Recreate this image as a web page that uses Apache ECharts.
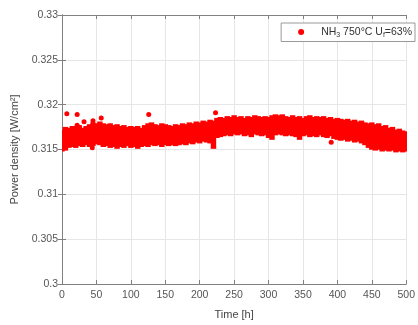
<!DOCTYPE html>
<html><head><meta charset="utf-8">
<script src="https://cdn.jsdelivr.net/npm/echarts@6/dist/echarts.min.js"></script>
<style>html,body{margin:0;padding:0;background:#fff}#c{width:418px;height:325px}</style>
</head><body><div id="c"></div>
<script>
// Time samples (h) of the dense measurement band
const bandTime = [0,5,10,15,20,25,30,35,40,45,50,55,60,65,70,75,80,85,90,95,100,105,110,115,120,125,130,135,140,145,150,155,160,165,170,175,180,185,190,195,200,205,210,215,220,225,230,235,240,245,250,255,260,265,270,275,280,285,290,295,300,305,310,315,320,325,330,335,340,345,350,355,360,365,370,375,380,385,390,395,400,405,410,415,420,425,430,435,440,445,450,455,460,465,470,475,480,485,490,495,500];
// Upper edge of the scatter band (W/cm2)
const bandHigh = [0.3170,0.3173,0.3172,0.3174,0.3173,0.3175,0.3172,0.3174,0.3176,0.3178,0.3177,0.3179,0.3177,0.3176,0.3177,0.3175,0.3176,0.3174,0.3175,0.3173,0.3174,0.3173,0.3174,0.3172,0.3175,0.3177,0.3178,0.3176,0.3175,0.3177,0.3176,0.3175,0.3174,0.3176,0.3175,0.3177,0.3176,0.3178,0.3177,0.3179,0.3178,0.3180,0.3179,0.3181,0.3180,0.3183,0.3184,0.3183,0.3185,0.3184,0.3186,0.3184,0.3185,0.3183,0.3185,0.3184,0.3186,0.3185,0.3184,0.3185,0.3184,0.3186,0.3187,0.3186,0.3187,0.3185,0.3184,0.3186,0.3184,0.3185,0.3183,0.3185,0.3186,0.3184,0.3185,0.3184,0.3185,0.3183,0.3184,0.3182,0.3183,0.3182,0.3181,0.3182,0.3180,0.3181,0.3179,0.3180,0.3178,0.3177,0.3178,0.3176,0.3177,0.3174,0.3175,0.3172,0.3173,0.3170,0.3171,0.3169,0.3168];
// Lower edge of the scatter band (W/cm2)
const bandLow = [0.3150,0.3151,0.3154,0.3155,0.3154,0.3156,0.3155,0.3157,0.3155,0.3156,0.3158,0.3157,0.3155,0.3156,0.3154,0.3155,0.3153,0.3155,0.3154,0.3156,0.3154,0.3155,0.3153,0.3155,0.3156,0.3155,0.3157,0.3156,0.3157,0.3155,0.3157,0.3156,0.3157,0.3156,0.3157,0.3158,0.3157,0.3159,0.3158,0.3160,0.3159,0.3161,0.3160,0.3159,0.3153,0.3165,0.3166,0.3167,0.3168,0.3167,0.3169,0.3168,0.3169,0.3167,0.3168,0.3166,0.3169,0.3168,0.3167,0.3168,0.3165,0.3163,0.3168,0.3169,0.3168,0.3167,0.3168,0.3167,0.3166,0.3163,0.3167,0.3168,0.3166,0.3167,0.3166,0.3168,0.3166,0.3165,0.3167,0.3164,0.3163,0.3162,0.3163,0.3161,0.3162,0.3160,0.3161,0.3159,0.3157,0.3154,0.3152,0.3151,0.3152,0.3150,0.3151,0.3150,0.3151,0.3149,0.3150,0.3149,0.3150];
// Isolated points outside the band
const outlierTime = [7,22,22,32,45,57,44,126,223,391];
const outlierValue = [0.3190,0.3189,0.3177,0.3181,0.3182,0.3185,0.3152,0.3189,0.3191,0.3158];
const xTicks = [0,50,100,150,200,250,300,350,400,450,500];
const yTicks = [0.3,0.305,0.31,0.315,0.32,0.325,0.33];

const bandData = bandTime.map((t,i)=>[t,bandLow[i],bandHigh[i]]);
const outData = outlierTime.map((t,i)=>[t,outlierValue[i]]);
const RED = '#ff0000';
const FONT = 'Liberation Sans';
const chart = echarts.init(document.getElementById('c'), null, {renderer:'canvas'});
const axisCommon = {
  axisLine:{show:true,lineStyle:{color:'#808080',width:1}},
  axisTick:{show:true,inside:true,length:4,lineStyle:{color:'#808080'}},
  splitLine:{show:true,lineStyle:{color:'#e6e6e6',width:1}},
  axisLabel:{color:'#555',fontFamily:FONT,fontSize:10.5}
};
chart.setOption({
  animation:false,
  backgroundColor:'#fff',
  grid:{left:62,right:5,top:15,bottom:32,containLabel:false},
  legend:{
    show:true, data:['nh3'], right:3, top:23, orient:'horizontal',
    backgroundColor:'#fff', borderColor:'#999', borderWidth:1, padding:[3,3,3,17],
    itemWidth:6, itemHeight:6, itemGap:5,
    icon:'circle',
    formatter:()=> '{g|}{a|NH}{s|3}{a| 750°C U}{s|f}{a|=63%}',
    textStyle:{rich:{
      g:{width:12},
      a:{fontFamily:FONT,fontSize:10.5,color:'#333'},
      s:{fontFamily:FONT,fontSize:7,color:'#333',verticalAlign:'bottom',padding:[6,0,0,0]}
    }}
  },
  xAxis:[Object.assign({type:'value',min:0,max:500,interval:50,name:'Time [h]',nameLocation:'middle',nameGap:25,
    nameTextStyle:{color:'#444',fontFamily:FONT,fontSize:11}},axisCommon,
    {axisLabel:Object.assign({},axisCommon.axisLabel,{margin:6,formatter:v=>xTicks.includes(v)?String(v):''})}),
    {type:'value',position:'top',min:0,max:500,interval:50,axisLine:axisCommon.axisLine,axisTick:axisCommon.axisTick,axisLabel:{show:false},splitLine:{show:false}}],
  yAxis:[Object.assign({type:'value',min:0.3,max:0.33,interval:0.005,name:'Power density [W/cm²]',nameLocation:'middle',nameGap:32,
    nameTextStyle:{color:'#444',fontFamily:FONT,fontSize:11}},axisCommon,
    {axisLabel:Object.assign({},axisCommon.axisLabel,{margin:4,formatter:v=>{const m=yTicks.find(y=>Math.abs(y-v)<1e-9);return m===undefined?'':String(m);}})}),
    {type:'value',position:'right',min:0.3,max:0.33,interval:0.005,axisLine:axisCommon.axisLine,axisTick:axisCommon.axisTick,axisLabel:{show:false},splitLine:{show:false}}],
  series:[
    {type:'custom',name:'band',xAxisIndex:0,yAxisIndex:0,data:bandData,clip:true,
      renderItem:(params,api)=>{
        const t=api.value(0), lo=api.value(1), hi=api.value(2);
        const p1=api.coord([t,hi]), p2=api.coord([t,lo]);
        const w=api.size([5,0])[0]+2;
        return {type:'rect',shape:{x:p1[0]-w/2,y:p1[1]-2,width:w,height:p2[1]-p1[1]+4},style:{fill:RED,stroke:null}};
      }},
    {type:'scatter',name:'nh3',xAxisIndex:0,yAxisIndex:0,data:outData,symbol:'circle',symbolSize:5,itemStyle:{color:RED,opacity:1}}
  ]
});
</script></body></html>
